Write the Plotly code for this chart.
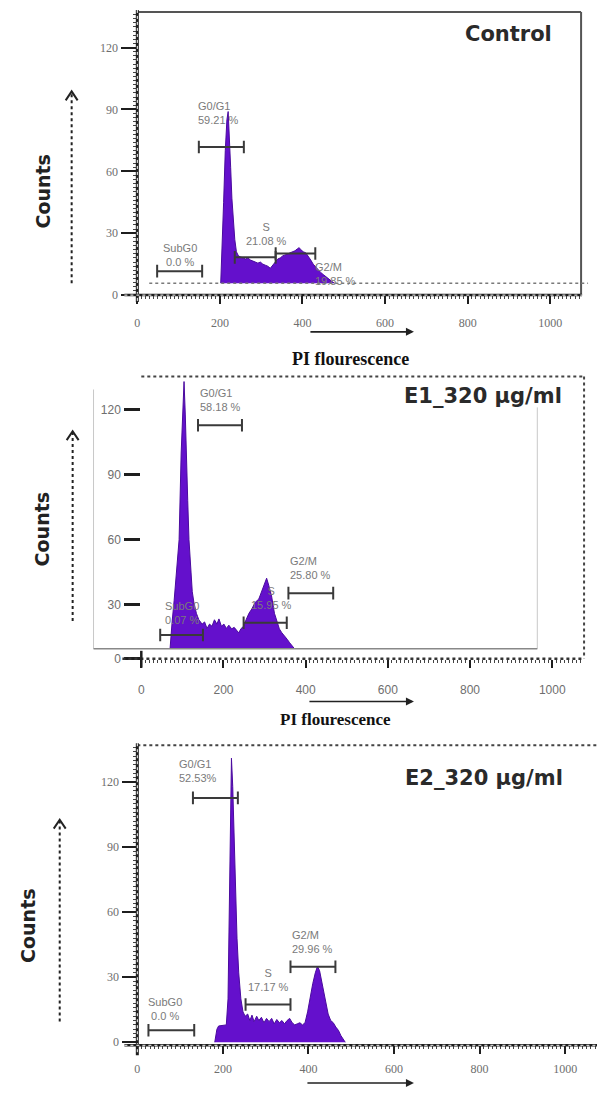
import plotly.graph_objects as go

W, H = 597, 1095


def fx(px):
    return px / W


def fy(py):
    return 1 - py / H


# ---------------- data ----------------
x_ticks = [0, 200, 400, 600, 800, 1000]
x_tick_text = ["0", "200", "400", "600", "800", "1000"]
y_ticks = [0, 30, 60, 90, 120]
y_tick_text = ["0", "30", "60", "90", "120"]

gate_names = ["SubG0", "G0/G1", "S", "G2/M"]

# Control
ctrl_x = [202, 205, 209, 213, 217, 220, 223, 226, 229, 232, 236, 240, 245, 250, 256, 262, 268, 274, 280, 286,
          292, 298, 304, 310, 316, 322, 328, 334, 340, 346, 352, 358, 364, 370, 376, 382, 388, 392, 396, 402,
          408, 414, 420, 426, 432, 438, 444, 450, 456, 462, 468, 474, 478]
ctrl_y = [5.8, 20, 45, 70, 85, 89, 78, 62, 47, 36, 27, 21, 19, 18.5, 18, 17.5, 18, 17, 16.5, 16,
          15.5, 16, 15, 14.5, 14, 13, 14.5, 15.5, 17.5, 18, 19, 19.5, 20, 20.5, 21, 21.5, 22.5, 23, 22, 21,
          20.5, 19, 17, 15, 13.5, 12, 11, 10, 9, 8, 7, 6.2, 5.8]
ctrl_gate_lo = [48, 149, 236, 335]
ctrl_gate_hi = [157, 258, 335, 431]
ctrl_gate_y = [11.6, 71.8, 18.3, 20.2]
ctrl_pct = ["0.0 %", "59.21 %", "21.08 %", "19.85 %"]

# E1_320 ug/ml
e1_x = [70, 73, 75, 80, 86, 92, 97, 101, 104, 107, 109, 113, 116, 120, 124, 128, 134, 140, 148, 154,
        160, 166, 172, 178, 184, 189, 195, 201, 207, 213, 220, 226, 232, 237, 243, 249, 255, 262, 269, 277,
        286, 293, 300, 305, 310, 317, 324, 330, 336, 342, 349, 355, 361, 367, 373]
e1_y = [9.6, 18, 22, 32, 45, 60, 100, 120, 133, 118, 100, 78, 60, 45, 36, 31, 26, 23, 21, 22,
        19, 21, 20, 23, 21, 23.4, 20, 21, 19, 20.5, 18.8, 19.5, 18, 17, 19, 20, 23, 26, 28, 31,
        32.6, 36, 40, 42.2, 39, 34, 26, 22, 18.8, 17, 15.6, 14, 12.4, 11, 9.6]
e1_gate_lo = [46, 138, 249, 358]
e1_gate_hi = [150, 245, 354, 467]
e1_gate_y = [16, 112.8, 21.6, 35.3]
e1_pct = ["0.07 %", "58.18 %", "15.95 %", "25.80 %"]

# E2_320 ug/ml
e2_x = [181, 186, 190, 200, 208, 212, 215, 218, 220, 223, 226, 229, 233, 237, 242, 247, 252, 258, 263, 268,
        273, 279, 284, 290, 296, 302, 308, 314, 320, 326, 332, 338, 344, 350, 356, 362, 368, 374, 380, 386,
        392, 398, 404, 410, 416, 421, 426, 431, 436, 441, 446, 452, 458, 464, 470, 476, 482, 486]
e2_y = [0, 6, 7.5, 7.8, 8, 20, 70, 125, 131, 118, 95, 70, 48, 32, 20, 14, 12, 13, 10, 12.5,
        9.5, 12, 10, 11.5, 9, 11, 9.5, 11, 8.5, 10.5, 9, 10, 8.5, 10, 11, 9, 8, 8.5, 9, 8,
        9, 14, 21, 27, 32, 35, 33, 28, 22, 17, 13, 10, 9, 7, 5.5, 3, 1, 0]
e2_gate_lo = [26, 130, 253, 358]
e2_gate_hi = [133, 235, 358, 463]
e2_gate_y = [5.5, 112.7, 17.4, 34.8]
e2_pct = ["0.0 %", "52.53%", "17.17 %", "29.96 %"]

panel_titles = ["Control", "E1_320 \u00b5g/ml", "E2_320 \u00b5g/ml"]

# ---------------- styles ----------------
PURPLE = "#6410CC"
EDGE = "#4A0A9E"
DARK = "#1e1e1e"
GATE = "#3a3a3a"
LABEL_GREY = "#7a7a7a"

panels = [
    dict(xs=ctrl_x, ys=ctrl_y, lo=ctrl_gate_lo, hi=ctrl_gate_hi, gy=ctrl_gate_y, pct=ctrl_pct,
         xdom=(135, 581), ydom=(12, 297), xr=[0, 1074.7], yr=[0, 137.3], xstand=8,
         yticks=y_ticks, yticktext=y_tick_text, yticklen=15, ytickw=1.5, ylabelfont="Liberation Serif",
         showyline=True,
         # label placement: (anchor, xshift, yshift, yanchor)
         lab=[("mid", 0, 1, "bottom"), ("lo", -3, 19, "bottom"), ("mid", 11, 8, "bottom"), ("hi", -2, -6, "top")]),
    dict(xs=e1_x, ys=e1_y, lo=e1_gate_lo, hi=e1_gate_hi, gy=e1_gate_y, pct=e1_pct,
         xdom=(139, 584), ydom=(379, 663), xr=[0, 1077.5], yr=[5.0, 135.3], xstand=12,
         yticks=[5.1, 30, 60, 90, 120], yticktext=y_tick_text, yticklen=16, ytickw=3, ylabelfont="Liberation Sans",
         showyline=False,
         lab=[("mid", 0, 7, "bottom"), ("lo", 0, 10, "bottom"), ("mid", 6, 10, "bottom"), ("lo", 0, 10, "bottom")]),
    dict(xs=e2_x, ys=e2_y, lo=e2_gate_lo, hi=e2_gate_hi, gy=e2_gate_y, pct=e2_pct,
         xdom=(135, 597), ydom=(750, 1052), xr=[0, 1074.4], yr=[-1.4, 137], xstand=4,
         yticks=y_ticks, yticktext=y_tick_text, yticklen=14, ytickw=1.5, ylabelfont="Liberation Serif",
         showyline=True,
         lab=[("mid", -6, 6, "bottom"), ("lo", -16, 12, "bottom"), ("mid", 0, 10, "bottom"), ("lo", 0, 10, "bottom")]),
]

fig = go.Figure()
layout = dict(width=W, height=H, margin=dict(l=0, r=0, t=0, b=0),
              paper_bgcolor="white", plot_bgcolor="rgba(0,0,0,0)", showlegend=False)
annotations = []
shapes = []

for i, p in enumerate(panels):
    sfx = "" if i == 0 else str(i + 1)
    xa, ya = "x" + sfx, "y" + sfx
    fig.add_trace(go.Scatter(x=p["xs"], y=p["ys"], mode="lines", fill="toself", fillcolor=PURPLE,
                             line=dict(color=EDGE, width=1), xaxis=xa, yaxis=ya, hoverinfo="skip"))
    for k, (lo, hi, gy) in enumerate(zip(p["lo"], p["hi"], p["gy"])):
        fig.add_trace(go.Scatter(x=[lo, hi], y=[gy, gy], mode="lines+markers",
                                 line=dict(color=GATE, width=2),
                                 marker=dict(symbol="line-ns", size=9, line=dict(width=2, color=GATE)),
                                 xaxis=xa, yaxis=ya, hoverinfo="skip"))
        anchor, xs_, ys_, yanc = p["lab"][k]
        if anchor == "mid":
            ax_x, xanc = (lo + hi) / 2, "center"
        elif anchor == "lo":
            ax_x, xanc = lo, "left"
        else:
            ax_x, xanc = hi, "left"
        annotations.append(dict(x=ax_x, y=gy, xref=xa, yref=ya, showarrow=False,
                                text=f"{gate_names[k]}<br>{p['pct'][k]}",
                                align="left" if xanc == "left" else "center",
                                xanchor=xanc, yanchor=yanc, xshift=xs_, yshift=ys_,
                                font=dict(family="Liberation Sans", size=11, color=LABEL_GREY)))

    layout["xaxis" + sfx] = dict(
        domain=[fx(p["xdom"][0]), fx(p["xdom"][1])], range=p["xr"], anchor=ya,
        tickmode="array", tickvals=x_ticks, ticktext=x_tick_text,
        ticks="outside", ticklen=8, tickwidth=2, tickcolor=DARK,
        showline=False, showgrid=False, zeroline=False, ticklabelstandoff=p["xstand"],
        tickfont=dict(family=p["ylabelfont"], size=12, color="#6e6e6e"),
        minor=dict(ticks="outside", ticklen=3, tickwidth=1, tickcolor="#444", tickmode="linear", tick0=0, dtick=10),
    )
    layout["yaxis" + sfx] = dict(
        domain=[fy(p["ydom"][1]), fy(p["ydom"][0])], range=p["yr"], anchor=xa,
        tickmode="array", tickvals=p["yticks"], ticktext=p["yticktext"],
        ticks="outside", ticklen=p["yticklen"], tickwidth=p["ytickw"], tickcolor=DARK,
        showline=False, showgrid=False, zeroline=False, ticklabelstandoff=1,
        tickfont=dict(family=p["ylabelfont"], size=12, color="#6e6e6e"),
        minor=dict(ticks="outside" if p["showyline"] else "", ticklen=3, tickwidth=1, tickcolor="#444",
                   tickmode="linear", tick0=0, dtick=2),
    )


def pline(x0, y0, x1, y1, color, width, dash="solid"):
    shapes.append(dict(type="line", xref="paper", yref="paper", x0=fx(x0), y0=fy(y0), x1=fx(x1), y1=fy(y1),
                       line=dict(color=color, width=width, dash=dash)))


# ---- panel 1 frame ----
pline(135, 12, 581, 12, "#555", 2)
pline(581, 12, 581, 297, "#555", 2)
pline(147, 285, 588, 285, "#7a7a7a", 1.5, "dot")
pline(135, 10, 135, 304, DARK, 3)
pline(135, 10, 135, 304, "white", 1, "dot")
pline(122, 297, 582, 297, DARK, 2.5)
pline(122, 297, 582, 297, "white", 1, "dot")

# ---- panel 2 frame ----
pline(139, 379, 584, 379, "#444", 2, "dot")
pline(584, 379, 584, 663, "#444", 2, "dot")
pline(120, 663, 584, 663, "#333", 2.5, "dot")
pline(139, 655, 139, 672, DARK, 2.5)
pline(91, 392, 91, 653, "#c8c8c8", 1)
pline(537, 410, 537, 653, "#c8c8c8", 1)
pline(91, 653, 537, 653, "#888", 1.5)

# ---- panel 3 frame ----
pline(135, 750, 597, 750, "#444", 2, "dot")
pline(135, 748, 135, 1062, DARK, 3)
pline(135, 748, 135, 1062, "white", 1, "dot")
pline(122, 1052, 597, 1052, DARK, 2.5)
pline(122, 1052, 597, 1052, "white", 1, "dot")

# vertical dotted arrows next to "Counts"
for (axp, y_bot, y_top) in [(69, 285, 92), (70, 625, 434), (57, 1028, 825)]:
    pline(axp, y_bot, axp, y_top, "#222", 2, "dot")
    shapes.append(dict(type="path", xref="paper", yref="paper",
                       path=f"M {fx(axp-6)} {fy(y_top+9)} L {fx(axp)} {fy(y_top)} L {fx(axp+6)} {fy(y_top+9)}",
                       line=dict(color="#222", width=2)))

# horizontal arrows under x axes
for (ypx, xa0, xa1) in [(334, 308, 413), (706, 307, 413), (1090, 305, 413)]:
    annotations.append(dict(x=fx(xa1), y=fy(ypx), xref="paper", yref="paper", ax=-(xa1 - xa0), ay=0,
                            showarrow=True, arrowhead=2, arrowsize=1, arrowwidth=1.6, arrowcolor="#222", text=""))

# "Counts" labels
for (cx, cy) in [(40, 193), (39, 533), (25, 932)]:
    annotations.append(dict(x=fx(cx), y=fy(cy), xref="paper", yref="paper", showarrow=False,
                            xanchor="center", yanchor="middle",
                            text="<b>Counts</b>", textangle=-90,
                            font=dict(family="DejaVu Sans", size=19, color="#222")))

# "PI flourescence" titles
for (cx, cy, sz) in [(349, 361, 18), (334, 724, 17)]:
    annotations.append(dict(x=fx(cx), y=fy(cy), xref="paper", yref="paper", showarrow=False,
                            xanchor="center", yanchor="middle",
                            text="<b>PI flourescence</b>",
                            font=dict(family="Liberation Serif", size=sz, color="#111")))

# panel titles
for (t, cx, cy) in zip(panel_titles, [508, 482, 483], [34, 399, 783]):
    annotations.append(dict(x=fx(cx), y=fy(cy), xref="paper", yref="paper", showarrow=False,
                            xanchor="center", yanchor="middle",
                            text=f"<b>{t}</b>",
                            font=dict(family="DejaVu Sans", size=21, color="#2a2a2a")))

layout["annotations"] = annotations
layout["shapes"] = shapes
fig.update_layout(**layout)
fig.write_html("out.html")
